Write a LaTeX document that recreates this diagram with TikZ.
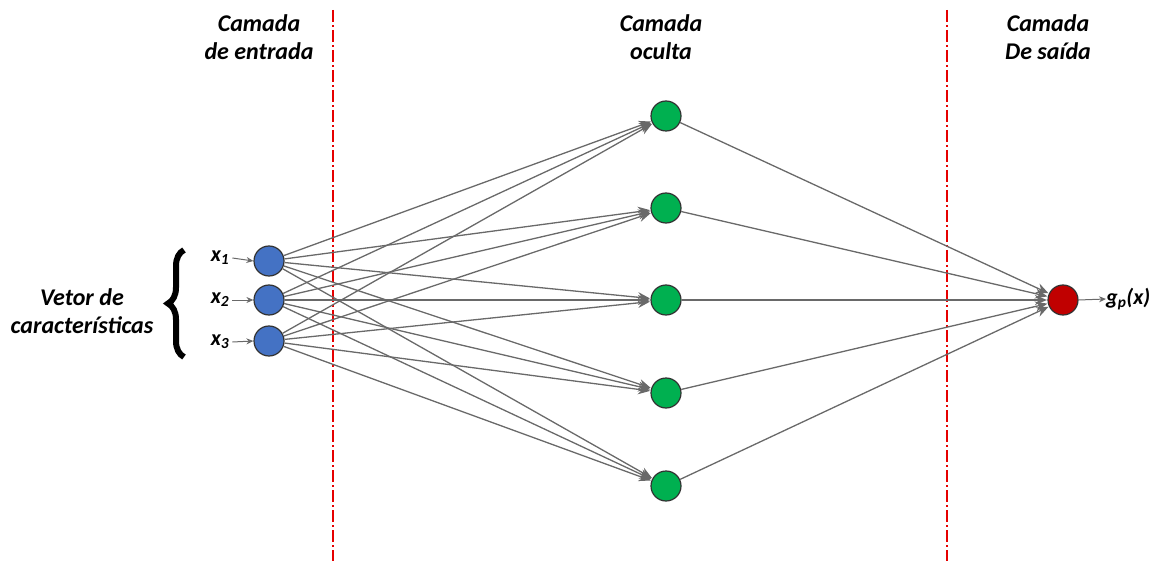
\documentclass[tikz,border=0pt]{standalone}
\usepackage{fontspec}
\setmainfont{Carlito}
\usetikzlibrary{arrows.meta,decorations.pathreplacing}
\definecolor{inblue}{HTML}{4472C4}
\definecolor{hgreen}{HTML}{00B050}
\definecolor{ored}{HTML}{C00000}
\definecolor{edgegray}{RGB}{105,105,105}
\definecolor{ringgray}{RGB}{50,50,50}
\definecolor{sepred}{RGB}{230,0,0}
\tikzset{
  neuron/.style={circle, draw=ringgray, line width=1.2pt, minimum size=30pt, inner sep=0pt},
  innode/.style={neuron, fill=inblue},
  hidnode/.style={neuron, fill=hgreen},
  outnode/.style={neuron, fill=ored},
  conn/.style={draw=edgegray, line width=1.3pt, -{Stealth[length=12pt,width=10pt]}, shorten >=0.5pt},
  smallarrow/.style={draw=edgegray, line width=1pt, -{Stealth[length=7pt,width=6pt]}},
  seplinestyle/.style={color=sepred, line width=1.4pt, dash pattern=on 12pt off 3pt on 2pt off 3pt},
  lbl/.style={font=\fontsize{24}{28}\selectfont\bfseries\itshape, align=center},
  xlbl/.style={font=\fontsize{22}{24}\selectfont\bfseries\itshape, inner sep=0pt}
}
\begin{document}
\begin{tikzpicture}[x=1pt,y=-1pt]
\useasboundingbox (0,0) rectangle (1161,561);
% separators
\coordinate (s1a) at (333,10); \coordinate (s1b) at (333,561);
\coordinate (s2a) at (947,10); \coordinate (s2b) at (947,561);
\draw[seplinestyle] (s1a) -- (s1b);
\draw[seplinestyle] (s2a) -- (s2b);
% titles
\node[lbl] (t1) at (259,37) {Camada\\de entrada};
\node[lbl] (t2) at (661,37) {Camada\\oculta};
\node[lbl] (t3) at (1048,37) {Camada\\De saída};
% nodes
\node[innode] (i1) at (269,261) {};
\node[innode] (i2) at (269,300) {};
\node[innode] (i3) at (269,341) {};
\node[hidnode] (h1) at (666,116) {};
\node[hidnode] (h2) at (666,208) {};
\node[hidnode] (h3) at (666,300) {};
\node[hidnode] (h4) at (666,393) {};
\node[hidnode] (h5) at (666,486) {};
\node[outnode] (o) at (1063,300) {};
% connections
\foreach \i in {1,2,3}{
  \foreach \h in {1,...,5}{
    \draw[conn] (i\i) -- (h\h);
  }
}
\foreach \h in {1,...,5}{
  \draw[conn] (h\h) -- (o);
}
% input labels
\node[xlbl] (x1) at (220,258) {x\textsubscript{1}};
\node[xlbl] (x2) at (220,300) {x\textsubscript{2}};
\node[xlbl] (x3) at (220,342) {x\textsubscript{3}};
\draw[smallarrow] (x1.east) ++(3,0) coordinate (x1e) (x1e) -- (i1.west);
\draw[smallarrow] (x2.east) ++(3,0) coordinate (x2e) (x2e) -- (i2.west);
\draw[smallarrow] (x3.east) ++(3,0) coordinate (x3e) (x3e) -- (i3.west);
% output label
\node[xlbl, anchor=west] (g) at (1106,299) {g\textsubscript{p}(x)};
\draw[smallarrow] (o.east) -- (g.west);
% brace
\coordinate (b1) at (184,250);
\coordinate (b2) at (184,357);
\draw[decorate, decoration={brace, amplitude=16pt, aspect=0.5}, line width=6pt] (b2) -- (b1);
\node[lbl] (v) at (82,311) {Vetor de\\características};
\end{tikzpicture}
\end{document}
